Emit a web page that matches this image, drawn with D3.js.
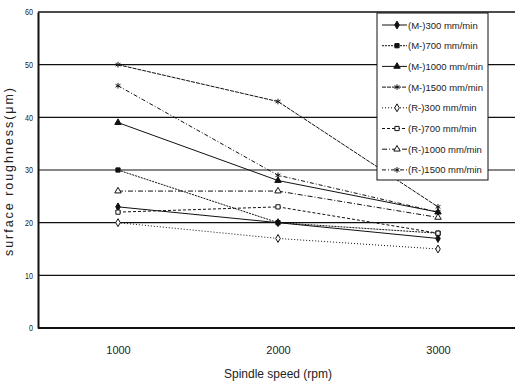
<!DOCTYPE html>
<html>
<head>
<meta charset="utf-8">
<script src="https://cdn.jsdelivr.net/npm/d3@7"></script>
<style>
  body { margin: 0; background: #fff; }
  svg text { font-family: "Liberation Sans", Arial, sans-serif; fill: #222; }
</style>
</head>
<body>
<svg id="chart" width="515" height="388"></svg>
<script>
// spindle speeds (rpm)
var speeds = ["1000", "2000", "3000"];
var yTicks = [0, 10, 20, 30, 40, 50, 60];

var seriesNames = ["(M-)300 mm/min", "(M-)700 mm/min", "(M-)1000 mm/min", "(M-)1500 mm/min",
                   "(R-)300 mm/min", "(R-)700 mm/min", "(R-)1000 mm/min", "(R-)1500 mm/min"];
var m300  = [23, 20, 17];
var m700  = [30, 20, 18];
var m1000 = [39, 28, 22];
var m1500 = [50, 43, 23];
var r300  = [20, 17, 15];
var r700  = [22, 23, 18];
var r1000 = [26, 26, 21];
var r1500 = [46, 29, 22];
var seriesValues = [m300, m700, m1000, m1500, r300, r700, r1000, r1500];

// line/marker styling per series
var dashes  = [null, "2,1", null, "4,1", "1,2", "3,2", "5,2,1,2", "4,2,1,2"];
var symbols = [d3.symbolDiamond, d3.symbolSquare, d3.symbolTriangle, d3.symbolAsterisk,
               d3.symbolDiamond, d3.symbolSquare, d3.symbolTriangle, d3.symbolAsterisk];
var filled  = [true, true, true, false, false, false, false, false];

var svg = d3.select("#chart");
var margin = { left: 38, top: 12, bottom: 328, right: 518 };

var x = d3.scalePoint().domain(speeds).range([margin.left, margin.right]).padding(0.5);
var y = d3.scaleLinear().domain([0, 60]).range([margin.bottom, margin.top]);

// grid lines
svg.append("g")
  .selectAll("line")
  .data(yTicks.filter(function(d) { return d > 0; }))
  .enter().append("line")
  .attr("x1", margin.left).attr("x2", 515)
  .attr("y1", function(d) { return y(d); })
  .attr("y2", function(d) { return y(d); })
  .attr("stroke", "#111")
  .attr("stroke-width", function(d) { return d == 60 ? 1.6 : 1.1; });

// y axis
var yAxis = d3.axisLeft(y).tickValues(yTicks).tickSize(0).tickPadding(5);
var gy = svg.append("g").attr("transform", "translate(" + margin.left + ",0)").call(yAxis);
gy.select(".domain").attr("stroke", "#111").attr("stroke-width", 2);
gy.selectAll("text").attr("font-size", 9).attr("fill", "#222").attr("textLength", function(d) { return d < 10 ? 4 : 8; }).attr("lengthAdjust", "spacingAndGlyphs");

// x axis
var xAxis = d3.axisBottom(x).tickSize(0).tickPadding(18);
var gx = svg.append("g").attr("transform", "translate(0," + margin.bottom + ")").call(xAxis);
gx.select(".domain").attr("d", "M" + margin.left + ",0H515").attr("stroke", "#111").attr("stroke-width", 2.2);
gx.selectAll("text").attr("font-size", 11).attr("fill", "#222");

// axis titles
svg.append("text")
  .attr("x", 278).attr("y", 378)
  .attr("text-anchor", "middle").attr("font-size", 12)
  .text("Spindle speed (rpm)");
svg.append("text")
  .attr("transform", "translate(13,172) rotate(-90)")
  .attr("text-anchor", "middle").attr("font-size", 12.5)
  .attr("textLength", 168).attr("lengthAdjust", "spacing")
  .text("surface roughness(\u03bcm)");

// series lines and markers
var line = d3.line()
  .x(function(d, i) { return x(speeds[i]); })
  .y(function(d) { return y(d); });

seriesValues.forEach(function(vals, k) {
  var g = svg.append("g").attr("class", "series");
  g.append("path")
    .attr("d", line(vals))
    .attr("fill", "none")
    .attr("stroke", "#111")
    .attr("stroke-width", 1)
    .attr("stroke-dasharray", dashes[k]);
  g.selectAll("path.pt")
    .data(vals)
    .enter().append("path")
    .attr("class", "pt")
    .attr("transform", function(d, i) { return "translate(" + x(speeds[i]) + "," + y(d) + ")"; })
    .attr("d", d3.symbol().type(symbols[k]).size(symbols[k] == d3.symbolAsterisk ? 22 : 18))
    .attr("fill", filled[k] ? "#111" : "#fff")
    .attr("stroke", "#111")
    .attr("stroke-width", 1);
});

// legend
var leg = svg.append("g").attr("transform", "translate(377,13)");
leg.append("rect")
  .attr("width", 111).attr("height", 167)
  .attr("fill", "#fff").attr("stroke", "#111").attr("stroke-width", 1);
seriesNames.forEach(function(name, k) {
  var ly = 12 + k * 20.7;
  leg.append("line")
    .attr("x1", 5).attr("x2", 30).attr("y1", ly).attr("y2", ly)
    .attr("stroke", "#111").attr("stroke-width", 1)
    .attr("stroke-dasharray", dashes[k]);
  leg.append("path")
    .attr("transform", "translate(20," + ly + ")")
    .attr("d", d3.symbol().type(symbols[k]).size(symbols[k] == d3.symbolAsterisk ? 22 : 18))
    .attr("fill", filled[k] ? "#111" : "#fff")
    .attr("stroke", "#111").attr("stroke-width", 1);
  leg.append("text")
    .attr("x", 31).attr("y", ly + 3.5)
    .attr("font-size", 9.5)
    .text(name);
});
</script>
</body>
</html>
